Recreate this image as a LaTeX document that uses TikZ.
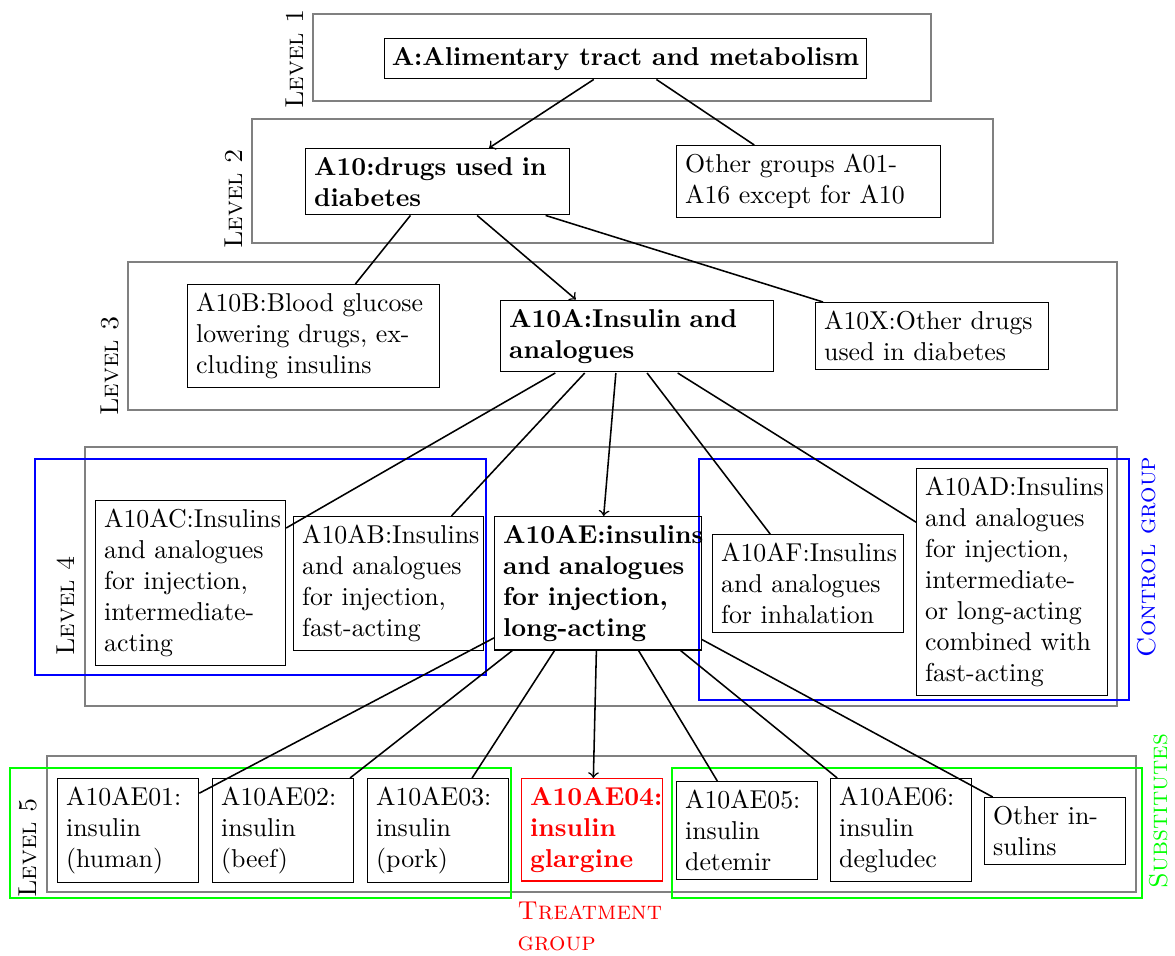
\documentclass[tikz,border=0pt]{standalone}
\usetikzlibrary{arrows,fit}
\begin{document}
\begin{tikzpicture}[x=0.387pt,y=-0.387pt,
  tbox/.style={draw,anchor=north west,align=left,text width=#1},
  tbox/.default=48pt,
  lvlrect/.style={draw=gray,line width=0.6pt},
  grprect/.style={line width=0.5pt},
  lab/.style={rotate=90,font=\scshape},
  conn/.style={semithick}]
\useasboundingbox (0,0) rectangle (1175,956);
% level frames
\draw[lvlrect] (313,14) rectangle (931,101);
\draw[lvlrect] (252,119) rectangle (993,243);
\draw[lvlrect] (128,262) rectangle (1117,410);
\draw[lvlrect] (85,447) rectangle (1117,706);
\draw[lvlrect] (47,756) rectangle (1136,892);
% group frames
\draw[grprect,blue] (35,459) rectangle (486,675);
\draw[grprect,blue] (699,459) rectangle (1129,700);
\draw[grprect,green] (10,768) rectangle (511,898);
\draw[grprect,green] (672,768) rectangle (1142,898);
% level labels
\node[lab] (L1) at (295,59) {Level 1};
\node[lab] (L2) at (234,199) {Level 2};
\node[lab] (L3) at (110,366) {Level 3};
\node[lab] (L4) at (66,606) {Level 4};
\node[lab] (L5) at (28,848) {Level 5};
\node[lab,text=blue] (CG) at (1147,557) {Control group};
\node[lab,text=green] (SG) at (1159,811) {Substitutes};
% level 1
\node[draw,anchor=north west,font=\bfseries,inner xsep=2.8pt] (A) at (384,38) {A:Alimentary tract and metabolism};
% level 2
\node[tbox=95.5pt,font=\bfseries] (A10) at (305,148) {A10:drugs used in\\diabetes};
\node[tbox=95.5pt] (Oth) at (676,145) {Other groups A01-\\A16 except for A10};
% level 3
\node[tbox=90.9pt] (A10B) at (187,284) {A10B:Blood glucose\\lowering drugs, ex-\\cluding insulins};
\node[tbox=99pt,font=\bfseries] (A10A) at (500,300) {A10A:Insulin and\\analogues};
\node[inner sep=0pt,fit={(A10A.north west) (A10A.south west) ([xshift=92.1pt]A10A.north west)}] (A10Ahub) {};
\node[tbox=83.5pt] (A10X) at (815,302) {A10X:Other drugs\\used in diabetes};
% level 4
\node[tbox=66.9pt] (A10AC) at (95,500) {A10AC:Insulins\\and analogues\\for injection,\\intermediate-\\acting};
\node[tbox=66.9pt] (A10AB) at (293,516) {A10AB:Insulins\\and analogues\\for injection,\\fast-acting};
\node[tbox=73.4pt,font=\bfseries] (A10AE) at (494,516) {A10AE:insulins\\and analogues\\for injection,\\long-acting};
\node[tbox=67.2pt] (A10AF) at (712,534) {A10AF:Insulins\\and analogues\\for inhalation};
\node[tbox=67.2pt] (A10AD) at (916,468) {A10AD:Insulins\\and analogues\\for injection,\\intermediate-\\or long-acting\\combined with\\fast-acting};
% level 5
\node[tbox] (E01) at (57,778) {A10AE01:\\insulin\\(human)};
\node[tbox] (E02) at (212,778) {A10AE02:\\insulin\\(beef)};
\node[tbox] (E03) at (367,778) {A10AE03:\\insulin\\(pork)};
\node[tbox,draw=red,text=red,font=\bfseries] (E04) at (521,778) {A10AE04:\\insulin\\glargine};
\node[tbox] (E05) at (676,781) {A10AE05:\\insulin\\detemir};
\node[tbox] (E06) at (830,778) {A10AE06:\\insulin\\degludec};
\node[tbox] (EO) at (984,797) {Other in-\\sulins};
\node[font=\scshape,text=red,align=left,inner sep=0pt,anchor=north west] (TG) at (517,901) {Treatment\\group};
% connectors
\draw[conn,->] (A) -- (A10);
\draw[conn] (A) -- (Oth);
\draw[conn] (A10) -- (A10B);
\draw[conn,->] (A10) -- (A10Ahub);
\draw[conn] (A10) -- (A10X);
\draw[conn] (A10Ahub) -- (A10AC);
\draw[conn] (A10Ahub) -- (A10AB);
\draw[conn,->] (A10Ahub) -- (A10AE);
\draw[conn] (A10Ahub) -- (A10AF);
\draw[conn] (A10Ahub) -- (A10AD);
\draw[conn] (A10AE) -- (E01);
\draw[conn] (A10AE) -- (E02);
\draw[conn] (A10AE) -- (E03);
\draw[conn,->] (A10AE) -- (E04);
\draw[conn] (A10AE) -- (E05);
\draw[conn] (A10AE) -- (E06);
\draw[conn] (A10AE) -- (EO);
\end{tikzpicture}
\end{document}
